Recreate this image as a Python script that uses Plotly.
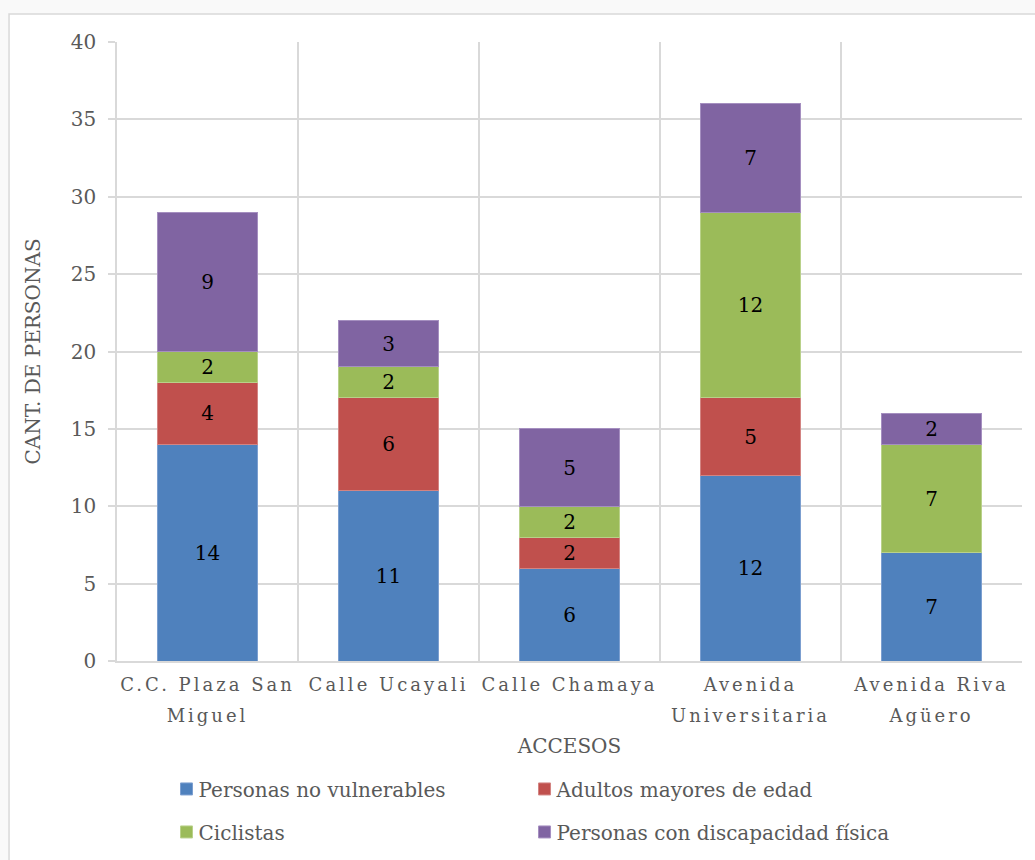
import plotly.graph_objects as go

# Access points surveyed and pedestrian counts per group
accesos = [
    "C.C. Plaza San<br>Miguel",
    "Calle Ucayali",
    "Calle Chamaya",
    "Avenida<br>Universitaria",
    "Avenida Riva<br>Agüero",
]
no_vulnerables = [14, 11, 6, 12, 7]
adultos_mayores = [4, 6, 2, 5, None]
ciclistas = [2, 2, 2, 12, 7]
discapacidad = [9, 3, 5, 7, 2]

series = [
    ("Personas no vulnerables", no_vulnerables, "#4F81BD", "#7C9FD0", "legend"),
    ("Adultos mayores de edad", adultos_mayores, "#C0504D", "#D38482", "legend2"),
    ("Ciclistas", ciclistas, "#9BBB59", "#B9D18A", "legend3"),
    ("Personas con discapacidad física", discapacidad, "#8064A2", "#A58FC0", "legend4"),
]

FONT = "DejaVu Serif"
GREY = "#595959"
GRID = "#D9D9D9"

fig = go.Figure()
for name, vals, color, edge, leg in series:
    fig.add_trace(go.Bar(
        x=accesos,
        y=vals,
        name=name,
        legend=leg,
        marker=dict(color=color, line=dict(color=edge, width=1)),
        text=vals,
        texttemplate="%{text}",
        textposition="inside",
        insidetextanchor="middle",
        textangle=0,
        textfont=dict(family=FONT, size=20, color="black"),
        hoverinfo="skip",
    ))

# One legend box per entry, laid out as a 2x2 grid below the axis title
def legend_box(x, y):
    return dict(
        orientation="h",
        x=x, xanchor="left",
        y=y, yref="container", yanchor="middle",
        itemwidth=30,
        font=dict(family=FONT, size=20, color=GREY),
        bgcolor="rgba(0,0,0,0)",
    )

COL1, COL2 = 0.0547, 0.4503
ROW1, ROW2 = 0.0826, 0.0326

fig.update_layout(
    width=1035,
    height=860,
    barmode="stack",
    bargap=0.45,
    margin=dict(l=117, r=13, t=42, b=199),
    paper_bgcolor="#F9F9F9",
    plot_bgcolor="white",
    font=dict(family=FONT, size=20, color=GREY),
    uniformtext=dict(minsize=20, mode="show"),
    showlegend=True,
    legend=legend_box(COL1, ROW1),
    legend2=legend_box(COL2, ROW1),
    legend3=legend_box(COL1, ROW2),
    legend4=legend_box(COL2, ROW2),
    shapes=[
        dict(
            type="rect", xref="paper", yref="paper",
            x0=-0.1193, x1=1.06, y0=-0.45, y1=1.0452,
            line=dict(color=GRID, width=1.5),
            fillcolor="white", layer="below",
        )
    ],
)

fig.update_xaxes(
    type="category",
    tickson="boundaries",
    showgrid=True, gridcolor=GRID, gridwidth=1.5,
    showline=True, linecolor=GRID, linewidth=1.5,
    ticks="",
    ticklabelstandoff=7,
    tickfont=dict(family=FONT, size=18, color=GREY),
    title=dict(text="ACCESOS", font=dict(family=FONT, size=20, color=GREY), standoff=21),
    automargin=False,
)

fig.update_yaxes(
    range=[0, 40],
    dtick=5,
    showgrid=True, gridcolor=GRID, gridwidth=1.5,
    showline=True, linecolor=GRID, linewidth=1.5,
    ticks="outside", ticklen=7, tickcolor=GRID, tickwidth=1.5,
    ticklabelstandoff=8,
    tickfont=dict(family=FONT, size=20, color=GREY),
    title=dict(text="CANT. DE PERSONAS", font=dict(family=FONT, size=20, color=GREY), standoff=25),
    zeroline=False,
    automargin=False,
)

# Tracked, double-spaced category labels; legend text pulled closer to its swatch
post = """
var css = document.createElement('style');
css.textContent =
  '.xtick text { letter-spacing: 3px; }' +
  '.infolayer .traces text { transform: translate(-8px, 0px); }';
document.head.appendChild(css);
var gd = document.getElementById('{plot_id}');
function spaceLines(){
  gd.querySelectorAll('.xtick text').forEach(function(t){
    var lines = t.querySelectorAll('tspan.line');
    if (lines.length > 1 && lines[1].getAttribute('dy') !== '1.7em') {
      lines[1].setAttribute('dy', '1.7em');
    }
  });
  gd.querySelectorAll('.infolayer [clip-path]').forEach(function(c){
    c.removeAttribute('clip-path');
  });
}
spaceLines();
new MutationObserver(spaceLines).observe(gd, {subtree: true, childList: true, attributes: true});
gd.on('plotly_afterplot', spaceLines);
"""

fig.write_html("out.html", post_script=post)
